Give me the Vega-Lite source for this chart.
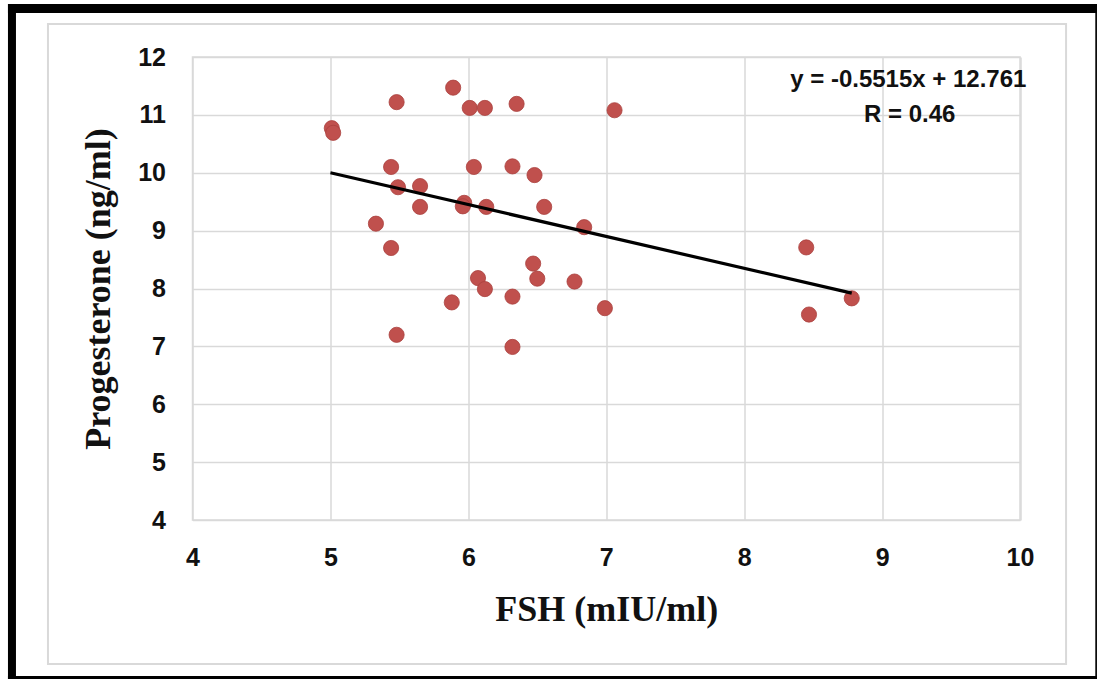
{
  "$schema": "https://vega.github.io/schema/vega-lite/v6.json",
  "width": 827.5,
  "height": 463,
  "autosize": "none",
  "padding": {"left": 192.5, "top": 57, "right": 77, "bottom": 159},
  "background": "white",
  "config": {
    "view": {"stroke": "#d9d9d9", "strokeWidth": 1.5},
    "axis": {
      "labelFont": "Liberation Sans",
      "labelFontWeight": "bold",
      "labelFontSize": 25,
      "labelColor": "#111111",
      "labelFlush": false,
      "titleFont": "Liberation Serif",
      "titleFontWeight": "bold",
      "titleFontSize": 36,
      "titleColor": "#111111",
      "gridColor": "#d9d9d9",
      "gridWidth": 1.5,
      "domain": false,
      "ticks": false,
      "format": "d"
    }
  },
  "datasets": {
    "points": [
      {"FSH": 5.89, "Progesterone": 11.47},
      {"FSH": 5.48, "Progesterone": 11.22},
      {"FSH": 6.01, "Progesterone": 11.12},
      {"FSH": 6.12, "Progesterone": 11.12},
      {"FSH": 6.35, "Progesterone": 11.19},
      {"FSH": 7.06, "Progesterone": 11.08},
      {"FSH": 5.01, "Progesterone": 10.77},
      {"FSH": 5.02, "Progesterone": 10.69},
      {"FSH": 5.44, "Progesterone": 10.1},
      {"FSH": 6.04, "Progesterone": 10.1},
      {"FSH": 6.32, "Progesterone": 10.11},
      {"FSH": 6.48, "Progesterone": 9.96},
      {"FSH": 5.49, "Progesterone": 9.75},
      {"FSH": 5.65, "Progesterone": 9.77},
      {"FSH": 5.65, "Progesterone": 9.41},
      {"FSH": 5.97, "Progesterone": 9.48},
      {"FSH": 5.96, "Progesterone": 9.42},
      {"FSH": 6.13, "Progesterone": 9.41},
      {"FSH": 6.55, "Progesterone": 9.41},
      {"FSH": 6.84, "Progesterone": 9.06},
      {"FSH": 5.33, "Progesterone": 9.12},
      {"FSH": 5.44, "Progesterone": 8.7},
      {"FSH": 6.47, "Progesterone": 8.43},
      {"FSH": 6.07, "Progesterone": 8.18},
      {"FSH": 6.5, "Progesterone": 8.17},
      {"FSH": 6.12, "Progesterone": 7.99},
      {"FSH": 6.77, "Progesterone": 8.12},
      {"FSH": 5.88, "Progesterone": 7.76},
      {"FSH": 6.32, "Progesterone": 7.86},
      {"FSH": 6.99, "Progesterone": 7.66},
      {"FSH": 5.48, "Progesterone": 7.2},
      {"FSH": 6.32, "Progesterone": 6.99},
      {"FSH": 8.45, "Progesterone": 8.71},
      {"FSH": 8.78, "Progesterone": 7.83},
      {"FSH": 8.47, "Progesterone": 7.55}
    ],
    "trend": [
      {"FSH": 5.0, "Progesterone": 10.0},
      {"FSH": 8.78, "Progesterone": 7.92}
    ]
  },
  "layer": [
    {
      "data": {"name": "points"},
      "mark": {"type": "circle", "size": 0, "opacity": 0},
      "encoding": {
        "x": {
          "field": "FSH", "type": "quantitative",
          "scale": {"domain": [4, 10], "nice": false, "zero": false},
          "axis": {"title": "FSH (mIU/ml)", "values": [4, 5, 6, 7, 8, 9, 10], "labelPadding": 25, "titlePadding": 22, "grid": true}
        },
        "y": {
          "field": "Progesterone", "type": "quantitative",
          "scale": {"domain": [4, 12], "nice": false, "zero": false},
          "axis": {"title": "Progesterone (ng/ml)", "values": [4, 5, 6, 7, 8, 9, 10, 11, 12], "labelPadding": 27, "titlePadding": 20, "grid": true}
        }
      }
    },
    {
      "data": {"values": [{}]},
      "mark": {"type": "rect", "color": "black"},
      "encoding": {
        "x": {"datum": 2.662, "type": "quantitative"},
        "x2": {"datum": 10.558},
        "y": {"datum": 12.916, "type": "quantitative"},
        "y2": {"datum": 12.76}
      }
    },
    {
      "data": {"values": [{}]},
      "mark": {"type": "rect", "color": "black"},
      "encoding": {
        "x": {"datum": 2.662, "type": "quantitative"},
        "x2": {"datum": 2.72},
        "y": {"datum": 12.916, "type": "quantitative"},
        "y2": {"datum": 1.253}
      }
    },
    {
      "data": {"values": [{}]},
      "mark": {"type": "rect", "color": "black"},
      "encoding": {
        "x": {"datum": 2.662, "type": "quantitative"},
        "x2": {"datum": 10.558},
        "y": {"datum": 1.305, "type": "quantitative"},
        "y2": {"datum": 1.253}
      }
    },
    {
      "data": {"values": [{}]},
      "mark": {"type": "rect", "color": "black"},
      "encoding": {
        "x": {"datum": 10.546, "type": "quantitative"},
        "x2": {"datum": 10.558},
        "y": {"datum": 12.916, "type": "quantitative"},
        "y2": {"datum": 1.253}
      }
    },
    {
      "data": {"values": [{}]},
      "mark": {"type": "rect", "fill": null, "fillOpacity": 0, "stroke": "#d9d9d9", "strokeWidth": 2},
      "encoding": {
        "x": {"datum": 2.952, "type": "quantitative"},
        "x2": {"datum": 10.334},
        "y": {"datum": 12.57, "type": "quantitative"},
        "y2": {"datum": 1.512}
      }
    },
    {
      "data": {"name": "points"},
      "mark": {"type": "circle", "size": 230, "color": "#c0504d", "opacity": 1, "stroke": "#a9403d", "strokeWidth": 0.8},
      "encoding": {
        "x": {"field": "FSH", "type": "quantitative"},
        "y": {"field": "Progesterone", "type": "quantitative"}
      }
    },
    {
      "data": {"name": "trend"},
      "mark": {"type": "line", "color": "black", "strokeWidth": 3.2},
      "encoding": {
        "x": {"field": "FSH", "type": "quantitative"},
        "y": {"field": "Progesterone", "type": "quantitative"}
      }
    },
    {
      "data": {"values": [{"label": "y = -0.5515x + 12.761", "row": 1}, {"label": "R = 0.46", "row": 2}]},
      "transform": [{"filter": "datum.row == 1"}],
      "mark": {"type": "text", "font": "Liberation Sans", "fontWeight": "bold", "fontSize": 24, "color": "#111111", "align": "center", "baseline": "middle"},
      "encoding": {
        "x": {"datum": 9.19, "type": "quantitative"},
        "y": {"datum": 11.6, "type": "quantitative"},
        "text": {"field": "label"}
      }
    },
    {
      "data": {"values": [{"label": "y = -0.5515x + 12.761", "row": 1}, {"label": "R = 0.46", "row": 2}]},
      "transform": [{"filter": "datum.row == 2"}],
      "mark": {"type": "text", "font": "Liberation Sans", "fontWeight": "bold", "fontSize": 24, "color": "#111111", "align": "center", "baseline": "middle"},
      "encoding": {
        "x": {"datum": 9.2, "type": "quantitative"},
        "y": {"datum": 11.0, "type": "quantitative"},
        "text": {"field": "label"}
      }
    }
  ]
}
